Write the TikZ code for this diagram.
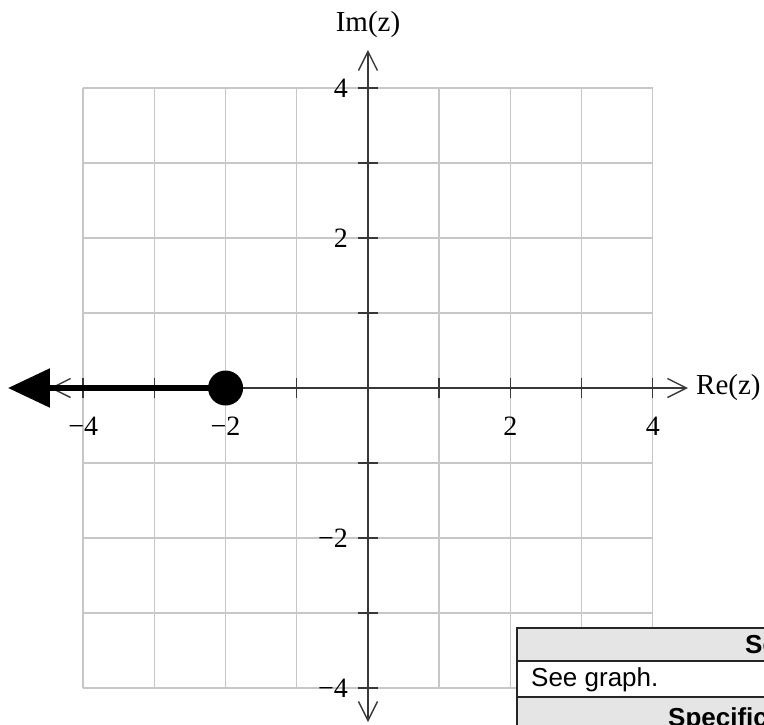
\documentclass[tikz,border=0pt]{standalone}
\usepackage{fontspec}
\setmainfont{Liberation Serif}
\newfontfamily\tablefont{Liberation Sans}
\usetikzlibrary{positioning,arrows.meta}

\begin{document}
\begin{tikzpicture}[
    x=71.2pt, y=75pt,
    gridline/.style={draw=black!22, line width=1.4pt},
    axis/.style={draw=black!78, line width=1.4pt,
                 {Straight Barb[length=19pt,width=19pt]}-{Straight Barb[length=19pt,width=19pt]}},
    tickmark/.style={draw=black!78, line width=1.4pt},
    ticklab/.style={font=\fontsize{28}{32}\selectfont, inner sep=0pt},
    axlab/.style={font=\fontsize{29}{34}\selectfont, inner sep=0pt},
    ray/.style={line width=5.5pt, -{Triangle[length=42pt,width=38pt]}},
    dotpt/.style={circle, fill=black, minimum size=35pt, inner sep=0pt},
    hdcell/.style={draw=black!85, line width=1.3pt, fill=black!10},
    bdcell/.style={draw=black!85, line width=1.3pt, fill=white},
    celltxt/.style={font=\tablefont\fontsize{26}{30}\selectfont, inner sep=0pt, anchor=base west},
  ]
    \useasboundingbox (-368pt,-336pt) rectangle (396pt,388pt);

    % Grid
    \draw[gridline] (-4,-4) grid[step=1] (4,4);

    % Axes
    \coordinate (xl) at (-318pt,0);
    \coordinate (xr) at (320pt,0);
    \coordinate (yb) at (0,-334pt);
    \coordinate (yt) at (0,338pt);
    \draw[axis] (xl) -- (xr);
    \draw[axis] (yb) -- (yt);
    \node[axlab, anchor=west, right=8pt of xr] (re) {Re(z)};
    \node[axlab, above=12pt of yt] (im) {Im(z)};

    % Ticks
    \foreach \i in {-4,...,4} {
      \draw[tickmark] (\i,0) ++(0,-10pt) -- ++(0,20pt);
      \draw[tickmark] (0,\i) ++(-10pt,0) -- ++(20pt,0);
    }
    \foreach \v/\t in {-4/−4,-2/−2,2/2,4/4} {
      \node[ticklab, anchor=base] (xlab\v) at ([yshift=-47pt]\v,0) {\t};
      \node[ticklab, anchor=east] (ylab\v) at ([xshift=-20pt]0,\v) {\t};
    }

    % Solution: closed dot at -2, ray to the left
    \node[dotpt] (start) at (-2,0) {};
    \coordinate (tip) at (-360pt,0);
    \draw[ray] (start.center) -- (tip);

    % Answer table (cut off at the page edge)
    \begin{scope}
      \clip (-368pt,-336pt) rectangle (396pt,388pt);
      \draw[hdcell] (149pt,-240pt) rectangle (420pt,-273pt);
      \draw[bdcell] (149pt,-273pt) rectangle (420pt,-309pt);
      \draw[hdcell] (149pt,-309pt) rectangle (420pt,-360pt);
      \node[celltxt, font=\tablefont\bfseries\fontsize{26}{30}\selectfont] (hd1) at (377pt,-265pt) {Se};
      \node[celltxt] (ans) at (163pt,-298pt) {See graph.};
      \node[celltxt, font=\tablefont\bfseries\fontsize{26}{30}\selectfont] (hd2) at (300pt,-338pt) {Specific};
    \end{scope}
  \end{tikzpicture}
\end{document}
